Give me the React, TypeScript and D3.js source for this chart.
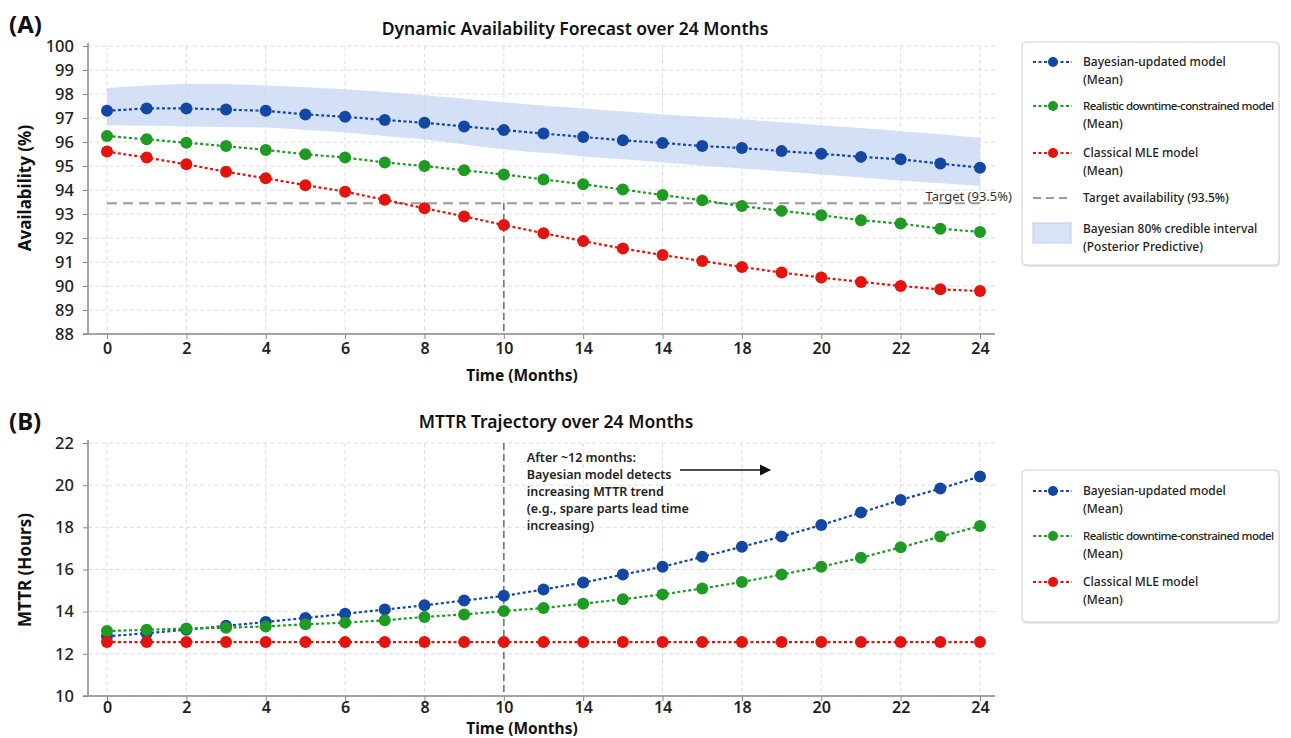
import React, { useEffect, useRef } from 'react';
import * as d3 from 'd3';

// x positions are forecast steps; the printed tick labels are kept as they appear
const steps = d3.range(23);
const tickSteps = [0, 2, 4, 6, 8, 10, 12, 14, 16, 18, 20, 22];
const tickLabels = ['0', '2', '4', '6', '8', '10', '14', '14', '18', '20', '22', '24'];

// panel A – availability (%)
const availBayes = [97.3, 97.4, 97.4, 97.35, 97.3, 97.15, 97.05, 96.92, 96.8, 96.65, 96.5, 96.35, 96.21, 96.07, 95.96, 95.83, 95.75, 95.62, 95.51, 95.38, 95.28, 95.1, 94.93];
const availRealistic = [96.25, 96.11, 95.97, 95.83, 95.67, 95.49, 95.35, 95.15, 95.0, 94.82, 94.65, 94.44, 94.24, 94.02, 93.79, 93.57, 93.33, 93.13, 92.95, 92.74, 92.6, 92.39, 92.25];
const availClassical = [95.6, 95.35, 95.07, 94.76, 94.49, 94.2, 93.93, 93.59, 93.24, 92.9, 92.54, 92.2, 91.87, 91.56, 91.29, 91.04, 90.79, 90.56, 90.35, 90.17, 90.0, 89.86, 89.79];
const bandUpper = [98.25, 98.35, 98.42, 98.42, 98.35, 98.28, 98.2, 98.08, 97.95, 97.8, 97.65, 97.52, 97.4, 97.28, 97.15, 97.05, 96.95, 96.82, 96.7, 96.58, 96.45, 96.32, 96.18];
const bandLower = [96.7, 96.68, 96.65, 96.63, 96.6, 96.5, 96.4, 96.25, 96.1, 95.9, 95.7, 95.55, 95.4, 95.28, 95.15, 95.02, 94.9, 94.78, 94.65, 94.52, 94.4, 94.28, 94.17];
const targetAvail = 93.45;
const availTicks = [88, 89, 90, 91, 92, 93, 94, 95, 96, 97, 98, 99, 100];

// panel B – MTTR (hours)
const mttrBayes = [12.83, 12.98, 13.14, 13.33, 13.51, 13.7, 13.9, 14.1, 14.3, 14.53, 14.75, 15.05, 15.38, 15.76, 16.13, 16.6, 17.08, 17.56, 18.11, 18.7, 19.3, 19.84, 20.41];
const mttrRealistic = [13.08, 13.14, 13.2, 13.24, 13.3, 13.4, 13.48, 13.59, 13.75, 13.87, 14.03, 14.17, 14.38, 14.59, 14.82, 15.1, 15.41, 15.76, 16.13, 16.56, 17.05, 17.56, 18.06];
const mttrClassical = [12.56, 12.56, 12.56, 12.56, 12.56, 12.56, 12.56, 12.56, 12.56, 12.56, 12.56, 12.56, 12.56, 12.56, 12.56, 12.56, 12.56, 12.56, 12.56, 12.56, 12.56, 12.56, 12.56];
const mttrTicks = [10, 12, 14, 16, 18, 20, 22];

const seriesNames = ['Bayesian-updated model', 'Realistic downtime-constrained model', 'Classical MLE model'];
const seriesColors = ['#1447a3', '#1f9a23', '#e3140e'];

const FONT = '"Noto Sans", "Open Sans", sans-serif';
const W = 1291;
const H = 738;
const axisX = 88;
const plotRight = 995;

function drawPanel(svg: any, o: any) {
    const x = d3.scaleLinear().domain([0, 22]).range([107, 980]);
    const y = d3.scaleLinear().domain(o.yDomain).range([o.bottom, o.top]);
    const g = svg.append('g');

    // grid
    g.selectAll('.hg').data(o.yTicks).join('line')
        .attr('x1', axisX).attr('x2', plotRight)
        .attr('y1', (d: number) => y(d)).attr('y2', (d: number) => y(d))
        .attr('stroke', '#dcdcdc').attr('stroke-width', 1).attr('stroke-dasharray', '4,3');
    g.selectAll('.vg').data(tickSteps).join('line')
        .attr('x1', (d: number) => x(d)).attr('x2', (d: number) => x(d))
        .attr('y1', o.top).attr('y2', o.bottom)
        .attr('stroke', '#dcdcdc').attr('stroke-width', 1).attr('stroke-dasharray', '4,3');

    // axes
    const yAxis = g.append('g').attr('transform', `translate(${axisX},0)`)
        .call(d3.axisLeft(y).tickValues(o.yTicks).tickSize(5).tickSizeOuter(0).tickFormat(d3.format('d')));
    yAxis.select('.domain').remove();
    yAxis.selectAll('line').attr('stroke', '#888');
    yAxis.selectAll('text').attr('font-family', FONT).attr('font-size', 16.5).attr('font-weight', 500).attr('fill', '#222').attr('x', -14);

    const xAxis = g.append('g').attr('transform', `translate(0,${o.bottom})`)
        .call(d3.axisBottom(x).tickValues(tickSteps).tickSize(5).tickSizeOuter(0).tickFormat((d: any, i: number) => tickLabels[i]));
    xAxis.select('.domain').remove();
    xAxis.selectAll('line').attr('stroke', '#888');
    xAxis.selectAll('text').attr('font-family', FONT).attr('font-size', 16).attr('font-weight', 600).attr('fill', '#222').attr('y', o.tickGap);

    g.append('line').attr('x1', axisX).attr('x2', axisX).attr('y1', o.top - 3).attr('y2', o.bottom)
        .attr('stroke', '#888').attr('stroke-width', 1.5);
    g.append('line').attr('x1', axisX - 5).attr('x2', plotRight).attr('y1', o.bottom).attr('y2', o.bottom)
        .attr('stroke', '#888').attr('stroke-width', 1.5);

    // band
    if (o.band) {
        const area = d3.area<number>().x(i => x(i)).y0(i => y(o.band[1][i])).y1(i => y(o.band[0][i])).curve(d3.curveMonotoneX);
        g.append('path').datum(steps).attr('d', area).attr('fill', '#c6d7f3').attr('opacity', 0.78);
    }

    // reference lines
    if (o.target !== undefined) {
        g.append('line').attr('x1', x(0)).attr('x2', x(22)).attr('y1', y(o.target)).attr('y2', y(o.target))
            .attr('stroke', '#9a9a9a').attr('stroke-width', 2).attr('stroke-dasharray', '10,6');
        g.append('text').attr('x', 1012).attr('y', y(o.target) - 2).attr('text-anchor', 'end')
            .attr('font-family', FONT).attr('font-size', 13).attr('fill', '#333').text('Target (93.5%)');
    }
    g.append('line').attr('x1', x(10)).attr('x2', x(10)).attr('y1', o.vTop).attr('y2', o.bottom)
        .attr('stroke', '#777').attr('stroke-width', 1.6).attr('stroke-dasharray', '7,4');

    // series
    const line = d3.line<number>().x((d, i) => x(i)).y(d => y(d));
    o.series.forEach((s: number[], k: number) => {
        g.append('path').datum(s).attr('d', line).attr('fill', 'none')
            .attr('stroke', seriesColors[k]).attr('stroke-width', 2.2).attr('stroke-dasharray', '3,2.5');
        g.selectAll(null).data(s).join('circle')
            .attr('cx', (d: number, i: number) => x(i)).attr('cy', (d: number) => y(d)).attr('r', 6)
            .attr('fill', seriesColors[k]);
    });

    // titles
    svg.append('text').attr('x', 9).attr('y', o.letterY).attr('font-family', FONT).attr('font-size', 24)
        .attr('font-weight', 700).attr('fill', '#111').text(o.letter);
    svg.append('text').attr('x', o.titleX).attr('y', o.titleY).attr('text-anchor', 'middle').attr('font-family', FONT)
        .attr('font-size', 17.5).attr('font-weight', 600).attr('fill', '#111').text(o.title);
    svg.append('text').attr('x', 522).attr('y', o.xLabelY).attr('text-anchor', 'middle').attr('font-family', FONT)
        .attr('font-size', 15.5).attr('font-weight', 700).attr('fill', '#111').text('Time (Months)');
    svg.append('text').attr('transform', `translate(31,${o.yLabelY}) rotate(-90)`).attr('text-anchor', 'middle')
        .attr('font-family', FONT).attr('font-size', 17).attr('font-weight', 700).attr('fill', '#111').text(o.yLabel);
    return { x, y, g };
}

function drawLegend(svg: any, bx: number, by: number, bw: number, bh: number, rows: any[]) {
    const g = svg.append('g');
    g.append('rect').attr('x', bx + 1).attr('y', by + 2).attr('width', bw).attr('height', bh).attr('rx', 4)
        .attr('fill', '#e8e8e8');
    g.append('rect').attr('x', bx).attr('y', by).attr('width', bw).attr('height', bh).attr('rx', 4)
        .attr('fill', '#fff').attr('stroke', '#cfcfcf');
    rows.forEach((r: any) => {
        if (r.kind === 'series') {
            g.append('line').attr('x1', 1033).attr('x2', 1072).attr('y1', r.y).attr('y2', r.y)
                .attr('stroke', r.color).attr('stroke-width', 2.2).attr('stroke-dasharray', '3,2.5');
            g.append('circle').attr('cx', 1053).attr('cy', r.y).attr('r', 5).attr('fill', r.color);
        } else if (r.kind === 'dash') {
            g.append('line').attr('x1', 1033).attr('x2', 1072).attr('y1', r.y).attr('y2', r.y)
                .attr('stroke', '#9a9a9a').attr('stroke-width', 2).attr('stroke-dasharray', '8,5');
        } else {
            g.append('rect').attr('x', 1033).attr('y', r.y - 6).attr('width', 38).attr('height', 20)
                .attr('fill', '#d8e3f7').attr('stroke', '#bfd0ef');
        }
        r.lines.forEach((t: string, j: number) => {
            const txt = g.append('text').attr('x', 1083).attr('y', r.y + 4 + j * 18).attr('font-family', FONT)
                .attr('font-size', 12).attr('font-weight', 500).attr('fill', '#222').text(t);
            // the long label is set tight in the original
            if (t.startsWith('Realistic')) txt.attr('font-size', 11.5).attr('letter-spacing', -0.55);
        });
    });
}

export default function App() {
    const ref = useRef<SVGSVGElement>(null);
    useEffect(() => {
        const svg = d3.select(ref.current);
        svg.selectAll('*').remove();
        svg.append('rect').attr('width', W).attr('height', H).attr('fill', '#fff');

        // (A) availability
        drawPanel(svg, {
            yDomain: [88, 100], yTicks: availTicks, top: 46, bottom: 334, tickGap: 9,
            series: [availBayes, availRealistic, availClassical], band: [bandUpper, bandLower],
            target: targetAvail, vTop: 203,
            letter: '(A)', letterY: 33, title: 'Dynamic Availability Forecast over 24 Months', titleX: 575, titleY: 35,
            xLabelY: 381, yLabel: 'Availability (%)', yLabelY: 188,
        });

        // (B) MTTR
        const b = drawPanel(svg, {
            yDomain: [10, 22], yTicks: mttrTicks, top: 443, bottom: 696, tickGap: 6,
            series: [mttrBayes, mttrRealistic, mttrClassical], vTop: 443,
            letter: '(B)', letterY: 430, title: 'MTTR Trajectory over 24 Months', titleX: 556, titleY: 428,
            xLabelY: 734, yLabel: 'MTTR (Hours)', yLabelY: 570,
        });
        const note = ['After ~12 months:', 'Bayesian model detects', 'increasing MTTR trend', '(e.g., spare parts lead time', 'increasing)'];
        note.forEach((t, i) => {
            b.g.append('text').attr('x', b.x(10) + 23).attr('y', 462 + i * 17).attr('font-family', FONT)
                .attr('font-size', 12.5).attr('font-weight', 600).attr('fill', '#222').text(t);
        });
        svg.append('defs').append('marker').attr('id', 'arr').attr('viewBox', '0 0 10 10').attr('refX', 9).attr('refY', 5)
            .attr('markerWidth', 7).attr('markerHeight', 7).attr('orient', 'auto')
            .append('path').attr('d', 'M0,0 L10,5 L0,10 Z').attr('fill', '#111');
        b.g.append('line').attr('x1', 680).attr('x2', 770).attr('y1', 470).attr('y2', 470)
            .attr('stroke', '#111').attr('stroke-width', 1.6).attr('marker-end', 'url(#arr)');

        drawLegend(svg, 1022, 42, 257, 223, [
            { kind: 'series', color: seriesColors[0], y: 62, lines: [seriesNames[0], '(Mean)'] },
            { kind: 'series', color: seriesColors[1], y: 106, lines: [seriesNames[1], '(Mean)'] },
            { kind: 'series', color: seriesColors[2], y: 153, lines: [seriesNames[2], '(Mean)'] },
            { kind: 'dash', y: 198, lines: ['Target availability (93.5%)'] },
            { kind: 'patch', y: 229, lines: ['Bayesian 80% credible interval', '(Posterior Predictive)'] },
        ]);
        drawLegend(svg, 1022, 470, 257, 152, [
            { kind: 'series', color: seriesColors[0], y: 491, lines: [seriesNames[0], '(Mean)'] },
            { kind: 'series', color: seriesColors[1], y: 536, lines: [seriesNames[1], '(Mean)'] },
            { kind: 'series', color: seriesColors[2], y: 582, lines: [seriesNames[2], '(Mean)'] },
        ]);
    }, []);
    return (
        <svg ref={ref} width={W} height={H} style={{ position: 'absolute', left: 0, top: 0, display: 'block' }} />
    );
}
